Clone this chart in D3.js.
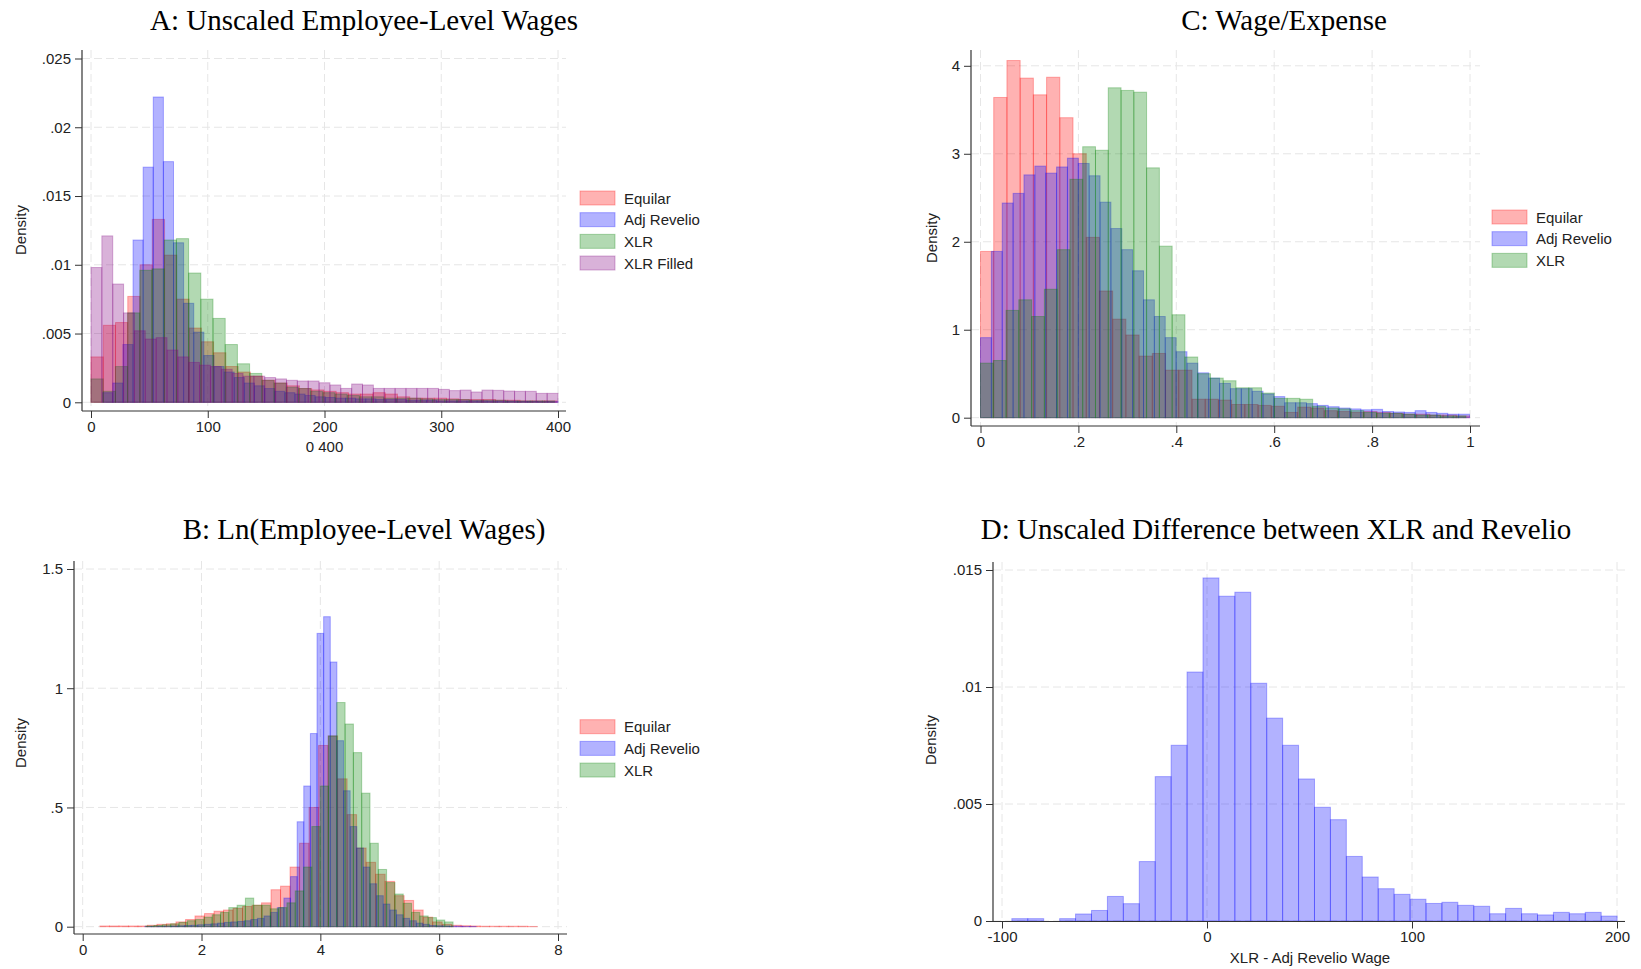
<!DOCTYPE html>
<html>
<head>
<meta charset="utf-8">
<script src="https://cdn.jsdelivr.net/npm/d3@7"></script>
<style>
body { margin: 0; background: #fff; }
svg { display: block; }
.tick text { font-family: "Liberation Sans", Arial, sans-serif; font-size: 15px; fill: #222; }
.tick line { stroke: #333; }
.title { font-family: "Liberation Serif", "Times New Roman", serif; font-size: 29px; fill: #000; text-anchor: middle; }
.lab { font-family: "Liberation Sans", Arial, sans-serif; font-size: 15px; fill: #222; }
.grid line { stroke: #e6e6e6; stroke-dasharray: 8,4; }
</style>
</head>
<body>
<svg width="1641" height="969"></svg>
<script>
/* legend + colours (stata red%30 etc) */
var legendNames = ["Equilar", "Adj Revelio", "XLR", "XLR Filled"];
var seriesColors = ["rgb(255,0,0)", "rgb(0,0,255)", "rgb(0,128,0)", "rgb(128,0,128)"];

/* each histogram: [bin start, bin width] and the density of every bin */

// A: Unscaled Employee-Level Wages
var aXTicks = [0, 100, 200, 300, 400];
var aYTicks = [0, .005, .01, .015, .02, .025];
var aEquilarBin = [0, 10.5];
var aEquilar = [0.0033, 0.0056, 0.0058, 0.0077, 0.0100, 0.0133, 0.0107, 0.0075, 0.0054, 0.0044,
  0.0036, 0.0026, 0.0022, 0.0019, 0.0016, 0.0014, 0.0012, 0.0010, 0.0009, 0.0008,
  0.0007, 0.0006, 0.0006, 0.0007, 0.0006, 0.0004, 0.0003, 0.0003, 0.0003, 0.00025,
  0.0002, 0.0002, 0.0002, 0.00015, 0.00015, 0.0001, 0.0001, 0.0001];
var aRevelioBin = [10, 8.667];
var aRevelio = [0.0007, 0.0014, 0.0042, 0.0118, 0.0171, 0.0222, 0.0175, 0.0116, 0.0072, 0.0051,
  0.0034, 0.0026, 0.0022, 0.0018, 0.0014, 0.0012, 0.0010, 0.0008, 0.0007, 0.0006,
  0.0005, 0.0004, 0.00035, 0.0003, 0.0003, 0.00025, 0.00025, 0.0002, 0.0002, 0.0002,
  0.00015, 0.00015, 0.00015, 0.0001, 0.0001, 0.0001, 0.0001, 0.0001, 0.00008, 0.00008,
  0.00008, 0.00006, 0.00006, 0.00005, 0.00005];
var aXlrBin = [0, 10.45];
var aXlr = [0.0017, 0.0008, 0.0026, 0.0065, 0.0096, 0.0097, 0.0118, 0.0119, 0.0094, 0.0075,
  0.0061, 0.0042, 0.0028, 0.0021, 0.0016, 0.0014, 0.0011, 0.0010, 0.0008, 0.0007,
  0.0006, 0.0005, 0.0004, 0.0004, 0.0003, 0.0003, 0.0003, 0.00025, 0.0002, 0.0002,
  0.0002, 0.00015, 0.00015, 0.00015, 0.0001, 0.0001, 0.0001, 0.0001];
var aFilledBin = [0, 400 / 43];
var aFilled = [0.0098, 0.0121, 0.0086, 0.0065, 0.0052, 0.0046, 0.0047, 0.0038, 0.0033, 0.0029,
  0.0027, 0.0026, 0.0024, 0.0021, 0.0019, 0.0019, 0.0018, 0.0017, 0.0016, 0.00155,
  0.00155, 0.00142, 0.00126, 0.00101, 0.00133, 0.00126, 0.00101, 0.00101, 0.00101, 0.00101,
  0.00101, 0.00101, 0.00094, 0.00085, 0.00089, 0.00075, 0.00089, 0.00087, 0.00082, 0.0008,
  0.0008, 0.00065, 0.00065];

// C: Wage/Expense
var cXTicks = [0, .2, .4, .6, .8, 1];
var cYTicks = [0, 1, 2, 3, 4];
var cEquilarBin = [0, 0.027];
var cEquilar = [1.89, 3.64, 4.06, 3.86, 3.67, 3.87, 3.41, 3.00, 2.05, 1.44,
  1.12, 0.94, 0.70, 0.73, 0.54, 0.54, 0.21, 0.21, 0.20, 0.15,
  0.15, 0.14, 0.13, 0.06, 0.12, 0.11, 0.08, 0.07, 0.06, 0.07,
  0.06, 0.05, 0.04, 0.04, 0.03, 0.03, 0.02];
var cRevelioBin = [0, 0.0222];
var cRevelio = [0.91, 1.89, 2.44, 2.55, 2.76, 2.86, 2.78, 2.85, 2.95, 2.89,
  2.75, 2.45, 2.15, 1.91, 1.67, 1.34, 1.15, 0.91, 0.75, 0.62,
  0.51, 0.45, 0.39, 0.33, 0.33, 0.30, 0.27, 0.24, 0.17, 0.17,
  0.16, 0.14, 0.125, 0.11, 0.10, 0.09, 0.095, 0.07, 0.065, 0.06,
  0.08, 0.06, 0.05, 0.04, 0.04];
var cXlrBin = [0, 0.0261];
var cXlr = [0.62, 0.65, 1.22, 1.34, 1.15, 1.46, 1.91, 2.71, 3.08, 3.04,
  3.75, 3.72, 3.70, 2.84, 1.95, 1.17, 0.69, 0.50, 0.45, 0.42,
  0.34, 0.34, 0.28, 0.22, 0.22, 0.21, 0.13, 0.11, 0.10, 0.08,
  0.06, 0.05, 0.05, 0.04, 0.03, 0.03, 0.02, 0.02];

// B: Ln(Employee-Level Wages)
var bXTicks = [0, 2, 4, 6, 8];
var bYTicks = [0, .5, 1, 1.5];
var bEquilarBin = [0.29, 0.16];
var bEquilar = [0.003, 0.003, 0.003, 0.003, 0.003, 0.006, 0.010, 0.012, 0.020, 0.030,
  0.045, 0.055, 0.065, 0.070, 0.077, 0.085, 0.090, 0.100, 0.155, 0.170,
  0.250, 0.35, 0.50, 0.76, 0.80, 0.62, 0.47, 0.33, 0.27, 0.22,
  0.19, 0.13, 0.11, 0.07, 0.04, 0.02, 0.01, 0.006, 0.004, 0.003,
  0.002, 0.002, 0.002, 0.002, 0.002, 0.001];
var bRevelioBin = [1.045, 0.1115];
var bRevelio = [0.001, 0.001, 0.002, 0.002, 0.003, 0.004, 0.005, 0.006, 0.008, 0.010,
  0.012, 0.015, 0.018, 0.020, 0.022, 0.025, 0.030, 0.035, 0.045, 0.060,
  0.080, 0.120, 0.210, 0.44, 0.59, 0.81, 1.23, 1.30, 1.11, 0.78,
  0.57, 0.42, 0.33, 0.25, 0.18, 0.13, 0.095, 0.07, 0.05, 0.035,
  0.025, 0.015, 0.010, 0.005, 0.004, 0.003, 0.002, 0.002, 0.001, 0.001];
var bXlrBin = [1.061, 0.1398];
var bXlr = [0.003, 0.005, 0.008, 0.012, 0.018, 0.025, 0.030, 0.040, 0.050, 0.060,
  0.080, 0.090, 0.120, 0.090, 0.090, 0.075, 0.080, 0.100, 0.150, 0.250,
  0.420, 0.590, 0.800, 0.94, 0.85, 0.73, 0.56, 0.35, 0.24, 0.185,
  0.137, 0.098, 0.06, 0.045, 0.038, 0.028, 0.02];

// D: Unscaled Difference between XLR and Revelio
var dXTicks = [-100, 0, 100, 200];
var dYTicks = [0, .005, .01, .015];
var dDiffBin = [-95.2, 7.77];
var dDiff = [0.0001, 0.0001, 0, 0.0001, 0.0003, 0.00045, 0.00105, 0.00074, 0.00254, 0.00617,
  0.00751, 0.01064, 0.01466, 0.01388, 0.01405, 0.01016, 0.00867, 0.00751, 0.00607, 0.00486,
  0.00433, 0.00276, 0.00188, 0.00138, 0.00114, 0.00093, 0.00075, 0.0008, 0.00067, 0.00063,
  0.00031, 0.00054, 0.00031, 0.00026, 0.00037, 0.00031, 0.00037, 0.00021];

var svg = d3.select("svg");

// stata style labels: .025 instead of 0.025
function fmt(v) { return String(v).replace(/^(-?)0\./, "$1."); }

function hist(g, x, y, bin, vals, color) {
  var bars = vals.map(function(v, i) {
    return { x0: bin[0] + i * bin[1], x1: bin[0] + (i + 1) * bin[1], v: v };
  }).filter(function(d) { return d.v > 0; });
  g.append("g").selectAll("rect").data(bars).join("rect")
    .attr("x", function(d) { return x(d.x0); })
    .attr("width", function(d) { return x(d.x1) - x(d.x0); })
    .attr("y", function(d) { return y(d.v); })
    .attr("height", function(d) { return y(0) - y(d.v); })
    .attr("fill", color).attr("fill-opacity", 0.3)
    .attr("stroke", color).attr("stroke-opacity", 0.3).attr("stroke-width", 1);
}

function panel(p) {
  var g = svg.append("g");
  var x = d3.scaleLinear().domain(p.xd).range(p.xr);
  var y = d3.scaleLinear().domain(p.yd).range(p.yr);

  // dashed grid
  var grid = g.append("g").attr("class", "grid");
  p.yt.forEach(function(t) {
    grid.append("line").attr("x1", p.ax).attr("x2", p.right).attr("y1", y(t)).attr("y2", y(t));
  });
  p.xt.forEach(function(t) {
    grid.append("line").attr("x1", x(t)).attr("x2", x(t)).attr("y1", p.top).attr("y2", p.ay);
  });

  p.series.forEach(function(s) { hist(g, x, y, s[0], s[1], seriesColors[s[2]]); });

  // axes
  var yAxis = g.append("g").attr("transform", "translate(" + p.ax + ",0)")
    .call(d3.axisLeft(y).tickValues(p.yt).tickFormat(fmt).tickSize(7).tickPadding(4).tickSizeOuter(0));
  var xAxis = g.append("g").attr("transform", "translate(0," + p.ay + ")")
    .call(d3.axisBottom(x).tickValues(p.xt).tickFormat(fmt).tickSize(7).tickPadding(3).tickSizeOuter(0));
  yAxis.select(".domain").remove();
  xAxis.select(".domain").remove();
  g.append("line").attr("x1", p.ax).attr("x2", p.ax).attr("y1", p.top).attr("y2", p.ay)
    .attr("stroke", "#333").attr("stroke-width", 1.2);
  g.append("line").attr("x1", p.ax).attr("x2", p.right).attr("y1", p.ay).attr("y2", p.ay)
    .attr("stroke", "#333").attr("stroke-width", 1.2);

  g.append("text").attr("class", "title").attr("x", p.tx).attr("y", p.ty).text(p.title);
  g.append("text").attr("class", "lab").attr("text-anchor", "middle")
    .attr("transform", "translate(" + (p.densX + 5) + "," + p.densY + ") rotate(-90)")
    .text("Density");
  if (p.xTitle) {
    g.append("text").attr("class", "lab").attr("text-anchor", "middle")
      .attr("x", p.xTitle[1]).attr("y", p.xTitle[2]).text(p.xTitle[0]);
  }

  if (p.legend) {
    var lg = g.append("g");
    p.series.forEach(function(s, i) {
      var cy = p.legend[1] + i * 21.67;
      var c = seriesColors[s[2]];
      lg.append("rect").attr("x", p.legend[0]).attr("y", cy - 7).attr("width", 35).attr("height", 14)
        .attr("fill", c).attr("fill-opacity", 0.3).attr("stroke", c).attr("stroke-opacity", 0.3);
      lg.append("text").attr("class", "lab").attr("x", p.legend[0] + 44).attr("y", cy + 5.5)
        .text(legendNames[s[2]]);
    });
  }
}

panel({ title: "A: Unscaled Employee-Level Wages", tx: 364, ty: 30,
  ax: 82, ay: 411, top: 50, right: 566,
  xd: [0, 400], xr: [91, 558], yd: [0, .025], yr: [402.3, 58.5],
  xt: aXTicks, yt: aYTicks, xTitle: ["0 400", 324.5, 452],
  densX: 21, densY: 230,
  series: [[aEquilarBin, aEquilar, 0], [aRevelioBin, aRevelio, 1], [aXlrBin, aXlr, 2], [aFilledBin, aFilled, 3]],
  legend: [580, 198] });

panel({ title: "C: Wage/Expense", tx: 1284, ty: 30,
  ax: 971, ay: 426, top: 50, right: 1480,
  xd: [0, 1], xr: [980.5, 1470], yd: [0, 4], yr: [417.7, 65.8],
  xt: cXTicks, yt: cYTicks,
  densX: 932, densY: 238,
  series: [[cEquilarBin, cEquilar, 0], [cRevelioBin, cRevelio, 1], [cXlrBin, cXlr, 2]],
  legend: [1492, 217] });

panel({ title: "B: Ln(Employee-Level Wages)", tx: 364, ty: 539,
  ax: 74, ay: 934, top: 561, right: 567,
  xd: [0, 8], xr: [82.7, 558], yd: [0, 1.5], yr: [926.7, 569],
  xt: bXTicks, yt: bYTicks,
  densX: 21, densY: 743,
  series: [[bEquilarBin, bEquilar, 0], [bRevelioBin, bRevelio, 1], [bXlrBin, bXlr, 2]],
  legend: [580, 726.7] });

panel({ title: "D: Unscaled Difference between XLR and Revelio", tx: 1276, ty: 539,
  ax: 993, ay: 921.5, top: 562, right: 1625,
  xd: [-100, 200], xr: [1002, 1617], yd: [0, .015], yr: [921, 570],
  xt: dXTicks, yt: dYTicks, xTitle: ["XLR - Adj Revelio Wage", 1310, 963],
  densX: 931, densY: 740,
  series: [[dDiffBin, dDiff, 1]] });
</script>
</body>
</html>
